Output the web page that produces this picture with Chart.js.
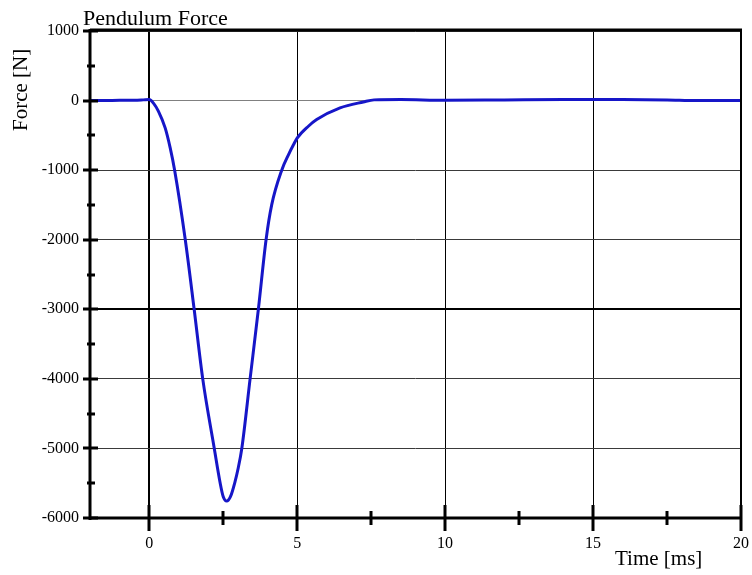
<!DOCTYPE html>
<html>
<head>
<meta charset="utf-8">
<script src="https://cdn.jsdelivr.net/npm/chart.js@4"></script>
<style>
  body { margin: 0; background: #fff; }
  #wrap { width: 752px; height: 575px; }
</style>
</head>
<body>
<div id="wrap"><canvas id="force"></canvas></div>
<script>
// Time in ms, force in N
const times = [-2, -1.5, -1, -0.5, -0.2, 0, 0.15, 0.31, 0.54, 0.71, 0.86, 1.22, 1.52, 1.81, 2.2, 2.4, 2.5, 2.62, 2.75, 2.9, 3.0, 3.13, 3.41, 3.69, 3.95, 4.14, 4.48, 4.71, 4.88, 5.0, 5.38, 5.66, 6.45, 7.24, 7.6, 8.5, 10, 12, 14, 16, 17.5, 18.5, 20]
const forces = [0, 0, 5, 5, 10, 15, -40, -153, -393, -680, -1000, -2000, -3000, -4000, -5000, -5500, -5690, -5757, -5690, -5480, -5300, -5000, -4000, -3000, -2000, -1500, -1000, -776, -632, -540, -369, -273, -105, -20, 10, 15, 5, 10, 15, 15, 10, 0, 0]

const xLabels = [0, 5, 10, 15, 20]
const yRange = [-6000, 1000]
const xRange = [-2, 20]

const chartTitle = 'Pendulum Force'
const xTitle = 'Time [ms]'
const yTitle = 'Force [N]'

const serif = '"Liberation Serif", "Times New Roman", serif'

// Frame, tick marks and the titles are drawn by hand to get the old plot look
const decorations = {
  id: 'decorations',
  afterDraw: (chart) => {
    const { ctx, chartArea: a, scales: { x, y } } = chart
    ctx.save()
    ctx.strokeStyle = '#000'
    ctx.lineWidth = 3
    ctx.beginPath()
    ctx.moveTo(a.left, a.top - 1)
    ctx.lineTo(a.right + 1, a.top - 1)
    ctx.moveTo(a.left, a.top - 2)
    ctx.lineTo(a.left, a.bottom + 2)
    ctx.moveTo(a.left - 1, a.bottom)
    ctx.lineTo(a.right + 1, a.bottom)
    ctx.stroke()
    ctx.lineWidth = 2
    ctx.beginPath()
    ctx.moveTo(a.right, a.top)
    ctx.lineTo(a.right, a.bottom)
    ctx.stroke()

    // y ticks: majors every 1000, minors in between
    ctx.lineWidth = 3
    for (let v = yRange[0]; v <= yRange[1]; v += 500) {
      const py = Math.round(y.getPixelForValue(v))
      const major = v % 1000 === 0
      ctx.beginPath()
      ctx.moveTo(a.left - (major ? 7 : 3), py)
      ctx.lineTo(a.left + (major ? 8 : 5), py)
      ctx.stroke()
    }
    // x ticks: majors every 5, minors at 2.5
    for (let v = 0; v <= xRange[1]; v += 2.5) {
      const px = Math.round(x.getPixelForValue(v))
      const major = v % 5 === 0
      ctx.beginPath()
      ctx.moveTo(px, a.bottom - (major ? 13 : 7))
      ctx.lineTo(px, a.bottom + (major ? 13 : 7))
      ctx.stroke()
    }

    ctx.fillStyle = '#000'
    ctx.textBaseline = 'alphabetic'
    ctx.textAlign = 'left'
    ctx.font = '22px ' + serif
    ctx.fillText(chartTitle, 83, 25)
    ctx.font = '21px ' + serif
    ctx.fillText(xTitle, 615, 565)
    ctx.translate(27, 131)
    ctx.rotate(-Math.PI / 2)
    ctx.fillText(yTitle, 0, 0)
    ctx.restore()
  }
}

const drawChart = () => {
  const canvas = document.querySelector('#force')
  new Chart(canvas.getContext('2d'), {
    type: 'line',
    data: {
      datasets: [{
        data: times.map((t, i) => ({ x: t, y: forces[i] })),
        borderColor: '#1616c8',
        borderWidth: 3,
        pointRadius: 0,
        cubicInterpolationMode: 'monotone',
        fill: false
      }]
    },
    options: {
      responsive: true,
      maintainAspectRatio: false,
      animation: false,
      layout: { padding: { top: 31, right: 11, left: 0, bottom: 0 } },
      plugins: {
        legend: { display: false },
        title: { display: false },
        tooltip: { enabled: false }
      },
      scales: {
        x: {
          type: 'linear',
          min: xRange[0],
          max: xRange[1],
          border: { display: false },
          ticks: {
            stepSize: 2.5,
            autoSkip: false,
            maxRotation: 0,
            padding: 16,
            color: '#000',
            font: { family: serif, size: 16 },
            callback: (v) => xLabels.includes(v) ? String(v) : ''
          },
          grid: {
            drawTicks: false,
            color: (c) => (c.tick && xLabels.includes(c.tick.value) && c.tick.value < xRange[1]) ? '#000' : 'rgba(0,0,0,0)',
            lineWidth: (c) => (c.tick && c.tick.value === 0) ? 2 : 1
          },
          afterFit: (scale) => {
            // label overhang is covered by the layout padding already
            scale.height = 57
            scale.paddingLeft = 0
            scale.paddingRight = 0
          }
        },
        y: {
          min: yRange[0],
          max: yRange[1],
          border: { display: false },
          ticks: {
            stepSize: 1000,
            padding: 11,
            color: '#000',
            font: { family: serif, size: 16 },
            callback: (v) => String(v)
          },
          grid: {
            drawTicks: false,
            color: (c) => {
              const v = c.tick && c.tick.value
              if (v === 0) return '#808080'
              if (v === -3000) return '#000'
              return '#3a3a3a'
            },
            lineWidth: (c) => (c.tick && c.tick.value === -3000) ? 2 : 1
          },
          afterFit: (scale) => {
            scale.width = 90
            scale.paddingTop = 0
            scale.paddingBottom = 0
          }
        }
      }
    },
    plugins: [decorations]
  })
}

document.addEventListener('DOMContentLoaded', () => {
  drawChart()
})
</script>
</body>
</html>
